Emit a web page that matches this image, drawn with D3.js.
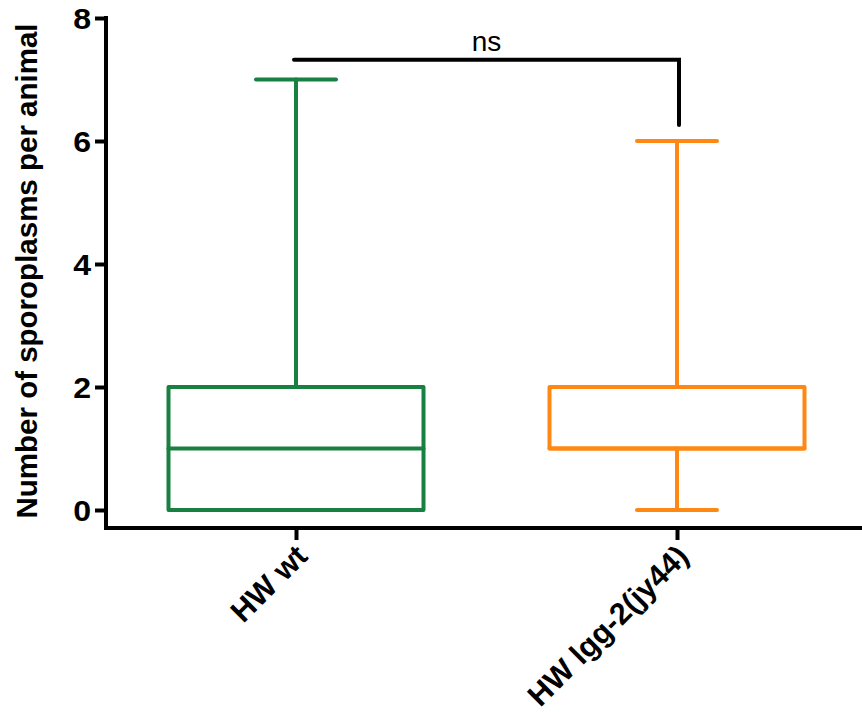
<!DOCTYPE html>
<html><head><meta charset="utf-8">
<script src="https://cdn.jsdelivr.net/npm/d3@7"></script>
<style>body{margin:0;background:#fff}svg{display:block}</style>
</head><body>
<svg id="c" width="862" height="712"></svg>
<script>
const categories = ["HW wt", "HW lgg-2(jy44)"];
const whiskerLow = [0, 0];
const q1 = [0, 1];
const median = [1, 1];
const q3 = [2, 2];
const whiskerHigh = [7, 6];
const colors = ["#188040", "#ff8714"];
const yTicks = [0, 2, 4, 6, 8];
const sigLabel = "ns";
const sigY = 7.32, sigRightEnd = 6.26;
const yTitle = "Number of sporoplasms per animal";

const svg = d3.select("#c");
const FONT = "'Liberation Sans', Arial, Helvetica, sans-serif";
const axisY = 528, axisX = 106;
const y = d3.scaleLinear().domain([0, 8]).range([510, 18]);
const x = d3.scalePoint().domain(categories).range([296, 677]);
const halfBox = 127.5, halfCap = 40;

// axes
const yAxis = svg.append("g").attr("transform", `translate(${axisX},0)`)
  .call(d3.axisLeft(y).tickValues(yTicks).tickSize(11).tickSizeOuter(0).tickPadding(3));
yAxis.select(".domain").remove();
yAxis.selectAll(".tick line").attr("stroke", "#000").attr("stroke-width", 4);
yAxis.selectAll(".tick text").attr("font-family", FONT).attr("font-weight", "bold")
  .attr("font-size", 30).attr("fill", "#000").attr("dy", "0.36em")
  .attr("transform", "scale(1.07,1)");
svg.append("line").attr("x1", axisX).attr("x2", axisX).attr("y1", y(8) - 2).attr("y2", axisY)
  .attr("stroke", "#000").attr("stroke-width", 4);

const xAxis = svg.append("g").attr("transform", `translate(0,${axisY})`)
  .call(d3.axisBottom(x).tickSize(12).tickSizeOuter(0));
xAxis.select(".domain").remove();
xAxis.selectAll(".tick line").attr("stroke", "#000").attr("stroke-width", 4);
xAxis.selectAll(".tick text").remove();
svg.append("line").attr("x1", axisX - 2).attr("x2", 862).attr("y1", axisY).attr("y2", axisY)
  .attr("stroke", "#000").attr("stroke-width", 4);

// x labels
categories.forEach((c, i) => {
  const cx = x(c) - 2, cy = 543;
  svg.append("text").attr("transform", `translate(${cx},${cy}) rotate(-45)`)
    .attr("text-anchor", "end").attr("dy", "0.7em")
    .attr("font-family", FONT).attr("font-weight", "bold").attr("font-size", 30.5)
    .attr("fill", "#000").text(c);
});

// y title
svg.append("text").attr("transform", `translate(37,271) rotate(-90)`)
  .attr("text-anchor", "middle").attr("font-family", FONT).attr("font-weight", "bold")
  .attr("font-size", 29.5).attr("fill", "#000").text(yTitle);

// boxes
categories.forEach((c, i) => {
  const g = svg.append("g").attr("stroke", colors[i]).attr("stroke-width", 4)
    .attr("fill", "none").attr("stroke-linecap", "round").attr("stroke-linejoin", "round");
  const cx = x(c);
  g.append("line").attr("x1", cx).attr("x2", cx).attr("y1", y(whiskerHigh[i])).attr("y2", y(q3[i]));
  g.append("line").attr("x1", cx).attr("x2", cx).attr("y1", y(q1[i])).attr("y2", y(whiskerLow[i]));
  g.append("line").attr("x1", cx - halfCap).attr("x2", cx + halfCap).attr("y1", y(whiskerHigh[i])).attr("y2", y(whiskerHigh[i]));
  g.append("line").attr("x1", cx - halfCap).attr("x2", cx + halfCap).attr("y1", y(whiskerLow[i])).attr("y2", y(whiskerLow[i]));
  g.append("rect").attr("x", cx - halfBox).attr("width", 2 * halfBox)
    .attr("y", y(q3[i])).attr("height", y(q1[i]) - y(q3[i]));
  g.append("line").attr("x1", cx - halfBox).attr("x2", cx + halfBox).attr("y1", y(median[i])).attr("y2", y(median[i]));
});

// significance bracket
const x0 = x(categories[0]), x1 = x(categories[1]);
svg.append("path")
  .attr("d", `M${x0 - 2},${y(sigY)}H${x1 + 2}V${y(sigRightEnd)}`)
  .attr("fill", "none").attr("stroke", "#000").attr("stroke-width", 4)
  .attr("stroke-linecap", "round").attr("stroke-linejoin", "miter");
svg.append("text").attr("x", (x0 + x1) / 2).attr("y", y(sigY) - 9)
  .attr("text-anchor", "middle").attr("font-family", FONT).attr("font-size", 28)
  .attr("fill", "#000").text(sigLabel);
</script>
</body></html>
